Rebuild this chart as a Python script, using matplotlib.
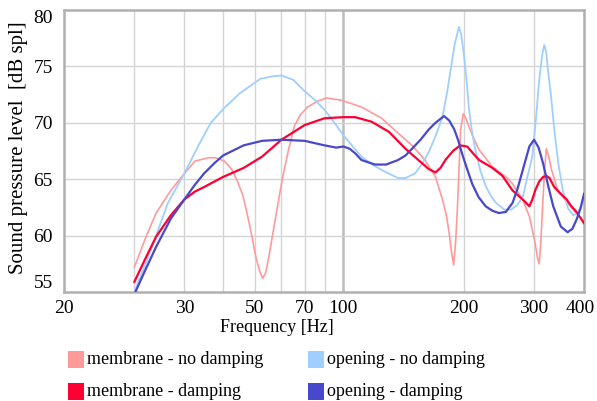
import matplotlib
matplotlib.use("Agg")
import matplotlib.pyplot as plt
from matplotlib.patches import Rectangle
from matplotlib.transforms import ScaledTranslation

# ---------------- data ----------------
opening_nd_f = [30, 32, 34, 36.4, 40, 43.4, 46.6, 50.3, 55, 62, 66, 70, 75, 80, 85, 90, 95, 100, 105, 111,
                118, 125, 137, 143, 151, 157, 163, 170, 177, 182, 185.5, 190, 194.6, 197, 200, 203, 206, 210,
                214, 220, 227, 234, 241, 253, 263, 272, 281, 290, 297, 303, 309, 314, 318, 322, 325, 331, 337,
                345, 354, 365, 376, 386, 393, 400]
opening_nd_db = [55.0, 57.5, 60.0, 62.9, 65.5, 68.0, 70.0, 71.3, 72.6, 73.9, 74.1, 74.2, 73.8, 72.8, 72.0, 71.1,
                 70.0, 68.9, 68.0, 67.0, 66.3, 65.8, 65.1, 65.1, 65.5, 66.3, 67.3, 68.8, 70.5, 72.8, 74.7, 77.0,
                 78.5, 77.9, 76.2, 74.1, 71.4, 69.1, 67.6, 65.8, 64.4, 63.5, 62.9, 62.3, 62.3, 62.7, 63.4, 65.5,
                 67.0, 70.2, 73.8, 75.9, 76.9, 76.2, 74.7, 72.3, 69.4, 66.4, 64.0, 62.4, 61.8, 62.0, 62.6, 63.3]

opening_d_f = [30, 32, 34, 37, 40, 42.5, 44.8, 47.5, 50, 56.3, 62.6, 70, 80, 89.7, 96, 100, 103.7, 107, 111,
               120, 128, 137, 143, 148.5, 156, 163.5, 170, 178.6, 184, 189.5, 194, 198, 204, 210, 218, 227, 236,
               245, 255, 265, 273, 281, 292, 300, 308, 316, 325, 335, 350, 364, 374, 383, 392, 400]
opening_d_db = [54.8, 57.0, 59.0, 61.5, 63.2, 64.5, 65.5, 66.4, 67.1, 68.0, 68.4, 68.5, 68.4, 68.0, 67.8, 67.9,
                67.7, 67.3, 66.7, 66.3, 66.3, 66.7, 67.1, 67.7, 68.5, 69.4, 70.0, 70.6, 70.2, 69.4, 68.4, 67.3,
                65.9, 64.6, 63.4, 62.6, 62.2, 62.0, 62.1, 62.9, 64.2, 65.8, 67.9, 68.5, 67.8, 66.4, 64.5, 62.6,
                60.8, 60.3, 60.6, 61.4, 62.4, 63.7]

membrane_d_f = [30, 32, 34, 37, 40, 42.5, 44.8, 50, 56.3, 60, 62.6, 70, 80, 89.7, 100, 107, 117.6, 130, 143,
                154, 163.5, 170, 175, 180, 188, 196, 204, 211, 218.6, 236, 250, 265, 281, 292, 297, 302, 309,
                316, 322, 328, 337, 350, 362, 372, 383, 400]
membrane_d_db = [55.9, 58.0, 59.9, 61.8, 63.2, 63.9, 64.3, 65.2, 66.0, 66.6, 67.0, 68.5, 69.8, 70.4, 70.5, 70.5,
                 70.1, 69.2, 67.7, 66.7, 65.9, 65.6, 66.0, 66.7, 67.5, 68.0, 67.9, 67.3, 66.7, 66.0, 65.3, 64.0,
                 63.2, 62.6, 63.2, 64.0, 64.8, 65.2, 65.3, 65.1, 64.3, 63.7, 63.2, 62.6, 62.1, 61.1]

membrane_nd_f = [30, 32, 34, 37, 40, 42.5, 46, 48, 50.4, 52.5, 54.2, 56, 57.4, 59, 60.4, 61.7, 62.8, 63.9, 65,
                 66.4, 68.5, 70.5, 73, 75.4, 78, 81.4, 86, 90.6, 98.8, 111, 124.7, 143, 148.5, 160, 170, 177, 181,
                 184, 186.5, 188.8, 191, 193, 196.5, 199.5, 202.5, 206, 212, 218.6, 236, 255, 265, 281, 292, 302,
                 306, 309, 312, 316, 319, 322, 326, 332, 344, 364, 386, 400]
membrane_nd_db = [57.2, 59.8, 62.0, 64.0, 65.5, 66.6, 66.9, 66.9, 66.6, 65.9, 64.9, 63.6, 62.0, 60.0, 58.1, 56.9,
                  56.2, 56.7, 58.0, 59.9, 62.7, 65.2, 67.7, 69.7, 70.7, 71.4, 71.9, 72.2, 72.0, 71.4, 70.4, 68.5,
                  68.0, 66.7, 65.2, 63.2, 61.8, 60.2, 58.5, 57.4, 59.5, 62.6, 69.4, 70.8, 70.4, 69.7, 68.6, 67.6,
                  66.1, 65.2, 64.6, 63.2, 61.7, 59.3, 58.0, 57.5, 59.5, 63.4, 66.0, 67.7, 67.1, 65.8, 64.0, 62.9,
                  61.8, 61.3]

series_labels = ["membrane - no damping", "opening - no damping",
                 "membrane - damping", "opening - damping"]

x_tick_pos = [20, 40, 60, 80, 100, 200, 300, 400]
x_tick_labels = ["20", "30", "50", "70", "100", "200", "300", "400"]
y_ticks = [55, 60, 65, 70, 75, 80]
x_grid = [30, 40, 50, 60, 70, 80, 90, 200, 300]
x_grid_major = [100]
y_grid = [60, 65, 70, 75]

# ---------------- style ----------------
c_mnd = "#ff9a9a"
c_ond = "#9fcfff"
c_md = "#ff0033"
c_od = "#4848cc"
serif = "Liberation Serif"
fs = 13
fs_tick = 14
fs_ylab = 15

fig = plt.figure(figsize=(5.97, 4.01), dpi=100)
ax = fig.add_axes([64 / 597, 1 - 292 / 401, 520 / 597, 282 / 401])
ax.set_xscale("log")
ax.set_xlim(20, 400)
ax.set_ylim(55, 80)

for g in x_grid:
    ax.axvline(g, color="#d4d4d4", lw=1.0, zorder=0)
for g in x_grid_major:
    ax.axvline(g, color="#bcbcbc", lw=1.8, zorder=0)
for g in y_grid:
    ax.axhline(g, color="#d4d4d4", lw=1.0, zorder=0)

ax.plot(membrane_nd_f, membrane_nd_db, color=c_mnd, lw=1.2, zorder=2)
ax.plot(opening_nd_f, opening_nd_db, color=c_ond, lw=1.3, zorder=2)
ax.plot(membrane_d_f, membrane_d_db, color=c_md, lw=1.6, zorder=3)
ax.plot(opening_d_f, opening_d_db, color=c_od, lw=1.6, zorder=3)

ax.minorticks_off()
ax.set_xticks(x_tick_pos)
ax.set_xticklabels(x_tick_labels, fontfamily=serif, fontsize=fs_tick)
ax.set_yticks(y_ticks)
ax.set_yticklabels([str(v) for v in y_ticks], fontfamily=serif, fontsize=fs_tick)
ax.tick_params(length=0, pad=6)
ax.tick_params(axis="y", pad=8)
ylabs = ax.get_yticklabels()
ylabs[0].set_va("bottom")
ylabs[-1].set_va("top")
xlabs = ax.get_xticklabels()
xlabs[-1].set_transform(xlabs[-1].get_transform() +
                        ScaledTranslation(-4 / 100, 0, fig.dpi_scale_trans))

for s in ax.spines.values():
    s.set_color("#b0b0b0")
    s.set_linewidth(1.8)

fig.text(19 / 597, 1 - 148 / 401, "Sound pressure level  [dB spl]", rotation=90,
         ha="center", va="center", fontfamily=serif, fontsize=fs_ylab)
fig.text(277 / 597, 1 - 327 / 401, "Frequency [Hz]", ha="center", va="center",
         fontfamily=serif, fontsize=fs)

# legend (manual)
leg_colors = [c_mnd, c_ond, c_md, c_od]
leg_x = [68, 308, 68, 308]
leg_y = [359, 359, 391, 391]
for lab, col, lx, ly in zip(series_labels, leg_colors, leg_x, leg_y):
    fig.add_artist(Rectangle((lx / 597, 1 - (ly + 8.5) / 401), 16 / 597, 17 / 401,
                             transform=fig.transFigure, facecolor=col, edgecolor="none"))
    fig.text((lx + 19) / 597, 1 - ly / 401, lab, ha="left", va="center",
             fontfamily=serif, fontsize=fs)

fig.savefig("out.png", dpi=100)
